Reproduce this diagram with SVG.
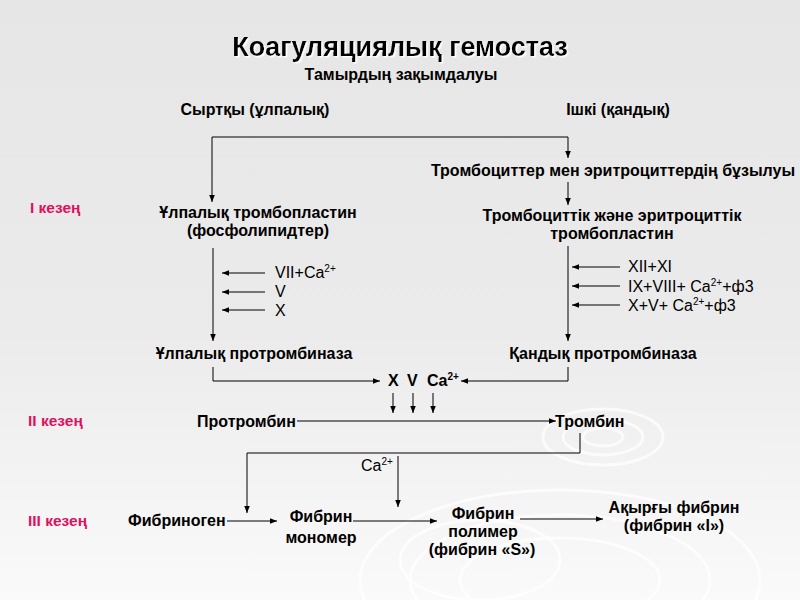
<svg xmlns="http://www.w3.org/2000/svg" width="800" height="600" viewBox="0 0 800 600">
<defs>
<linearGradient id="bg" x1="0" y1="0" x2="0" y2="1">
<stop offset="0" stop-color="#e6e6e6"/>
<stop offset="0.55" stop-color="#ebebeb"/>
<stop offset="1" stop-color="#fafafa"/>
</linearGradient>
<marker id="ah" viewBox="0 0 10 10" refX="10" refY="5" markerWidth="7" markerHeight="7" markerUnits="userSpaceOnUse" orient="auto">
<path d="M0,1 L10,5 L0,9 z" fill="#000"/>
</marker>
<filter id="sh" x="-5%" y="-20%" width="110%" height="140%">
<feDropShadow dx="1.5" dy="1.5" stdDeviation="0.6" flood-color="#ffffff" flood-opacity="1"/>
</filter>
</defs>
<style>
text{font-family:"Liberation Sans",Arial,sans-serif;fill:#000}
.b{font-weight:bold;font-size:16px}
.n{font-size:16px}
.sup{font-size:10px}
.st{font-weight:bold;font-size:15.5px;fill:#e0105e}
.a{stroke:#000;stroke-width:1;fill:none;marker-end:url(#ah)}
.rip{fill:none;stroke:#ffffff;stroke-width:3;opacity:0.7}
</style>
<rect width="800" height="600" fill="url(#bg)"/>
<g id="ripples">
<ellipse class="rip" cx="603" cy="437" rx="60" ry="28"/>
<ellipse class="rip" cx="603" cy="437" rx="40" ry="18"/>
<ellipse class="rip" cx="603" cy="437" rx="20" ry="9"/>
<ellipse class="rip" cx="560" cy="580" rx="200" ry="90"/>
<ellipse class="rip" cx="560" cy="580" rx="150" ry="65"/>
<ellipse class="rip" cx="560" cy="580" rx="100" ry="42"/>
<ellipse class="rip" cx="480" cy="560" rx="80" ry="40"/>
</g>
<g id="title">
<text x="400" y="56" text-anchor="middle" font-size="27" font-weight="bold" filter="url(#sh)">Коагуляциялық гемостаз</text>
<text x="401" y="80" text-anchor="middle" class="b">Тамырдың зақымдалуы</text>
</g>
<g id="stages">
<text x="30" y="213" class="st">I кезең</text>
<text x="28" y="426" class="st">II кезең</text>
<text x="28" y="526" class="st">III кезең</text>
</g>
<g id="n-ext"><text x="255" y="115" text-anchor="middle" class="b">Сыртқы (ұлпалық)</text></g>
<g id="n-int"><text x="618" y="115" text-anchor="middle" class="b">Ішкі (қандық)</text></g>
<g id="n-destr"><text x="613" y="176" text-anchor="middle" class="b">Тромбоциттер мен эритроциттердің бұзылуы</text></g>
<g id="n-tissue-tp">
<text x="258" y="218" text-anchor="middle" class="b">Ұлпалық тромбопластин</text>
<text x="258" y="236" text-anchor="middle" class="b">(фосфолипидтер)</text>
</g>
<g id="n-blood-tp">
<text x="612" y="221" text-anchor="middle" class="b">Тромбоциттік және эритроциттік</text>
<text x="612" y="239" text-anchor="middle" class="b">тромбопластин</text>
</g>
<g id="n-ext-factors">
<text x="275" y="278" class="n">VII+Ca<tspan class="sup" dy="-6">2+</tspan></text>
<text x="275" y="297" class="n">V</text>
<text x="275" y="316" class="n">X</text>
</g>
<g id="n-int-factors">
<text x="628" y="272" class="n">XII+XI</text>
<text x="628" y="292" class="n">IX+VIII+ Ca<tspan class="sup" dy="-6">2+</tspan><tspan dy="6">+ф3</tspan></text>
<text x="628" y="311" class="n">X+V+ Ca<tspan class="sup" dy="-6">2+</tspan><tspan dy="6">+ф3</tspan></text>
</g>
<g id="n-tissue-pt"><text x="254" y="359" text-anchor="middle" class="b">Ұлпалық протромбиназа</text></g>
<g id="n-blood-pt"><text x="603" y="359" text-anchor="middle" class="b">Қандық протромбиназа</text></g>
<g id="n-xvca">
<text x="388" y="386" class="b">X</text>
<text x="407" y="386" class="b">V</text>
<text x="427" y="386" class="b">Ca<tspan class="sup" dy="-6">2+</tspan></text>
</g>
<g id="n-prothrombin"><text x="197" y="427" class="b">Протромбин</text></g>
<g id="n-thrombin"><text x="555" y="427" class="b">Тромбин</text></g>
<g id="n-ca"><text x="361" y="471" class="n">Ca<tspan class="sup" dy="-6">2+</tspan></text></g>
<g id="n-fibrinogen"><text x="128" y="526" class="b">Фибриноген</text></g>
<g id="n-monomer">
<text x="321" y="522" text-anchor="middle" class="b">Фибрин</text>
<text x="321" y="543" text-anchor="middle" class="b">мономер</text>
</g>
<g id="n-polymer">
<text x="483" y="519" text-anchor="middle" class="b">Фибрин</text>
<text x="483" y="537" text-anchor="middle" class="b">полимер</text>
<text x="482" y="555" text-anchor="middle" class="b">(фибрин «S»)</text>
</g>
<g id="n-final">
<text x="674" y="513" text-anchor="middle" class="b">Ақырғы фибрин</text>
<text x="674" y="531" text-anchor="middle" class="b">(фибрин «I»)</text>
</g>
<g id="connectors">
<path class="a" d="M212,137 H568 V158"/>
<path class="a" d="M212,137 V202"/>
<path class="a" d="M568,182 V205"/>
<path class="a" d="M213,248 V341"/>
<path class="a" d="M568,246 V341"/>
<path class="a" d="M265,273 H222"/>
<path class="a" d="M265,292 H222"/>
<path class="a" d="M265,310 H222"/>
<path class="a" d="M620,267 H572"/>
<path class="a" d="M620,286 H572"/>
<path class="a" d="M620,305 H572"/>
<path class="a" d="M213,367 V381 H380"/>
<path class="a" d="M568,367 V381 H461"/>
<path class="a" d="M393,393 V413"/>
<path class="a" d="M413,393 V413"/>
<path class="a" d="M433,393 V413"/>
<path class="a" d="M297,421 H556"/>
<path class="a" d="M580,433 V453 H247 V513"/>
<path class="a" d="M398,456 V507"/>
<path class="a" d="M227,521 H277"/>
<path class="a" d="M353,521 H437"/>
<path class="a" d="M520,519 H603"/>
</g>
</svg>
